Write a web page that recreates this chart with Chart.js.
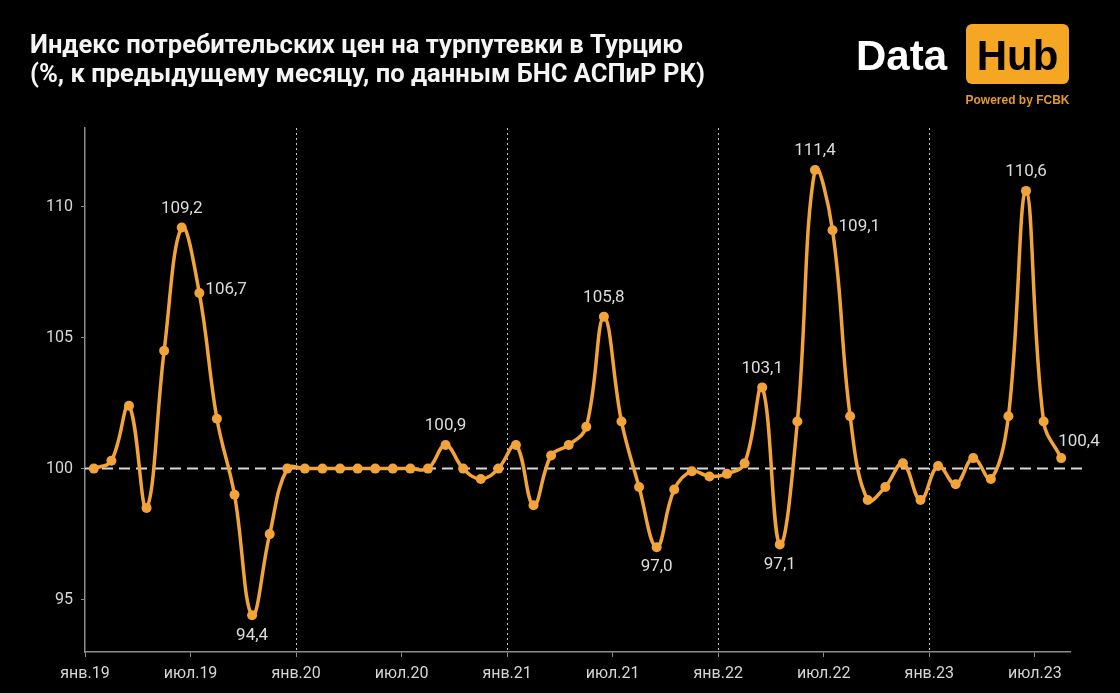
<!DOCTYPE html>
<html>
<head>
<meta charset="utf-8">
<script src="https://cdn.jsdelivr.net/npm/chart.js@4.4.1/dist/chart.umd.min.js"></script>
<style>
  html, body { margin: 0; padding: 0; background: #000; }
  #wrap { position: relative; width: 1120px; height: 693px; background: #000; }
  canvas { display: block; }
</style>
</head>
<body>
<div id="wrap"><canvas id="c" width="1120" height="693"></canvas></div>
<script>
// ---- data ----
const titleLines = [
  'Индекс потребительских цен на турпутевки в Турцию',
  '(%, к предыдущему месяцу, по данным БНС АСПиР РК)'
];
const tickLabels = ['янв.19','июл.19','янв.20','июл.20','янв.21','июл.21','янв.22','июл.22','янв.23','июл.23'];
const yTicks = [95, 100, 105, 110];
const values2019 = [100.0, 100.3, 102.4, 98.5, 104.5, 109.2, 106.7, 101.9, 99.0, 94.4, 97.5, 100.0];
const values2020 = [100.0, 100.0, 100.0, 100.0, 100.0, 100.0, 100.0, 100.0, 100.9, 100.0, 99.6, 100.0];
const values2021 = [100.9, 98.6, 100.5, 100.9, 101.6, 105.8, 101.8, 99.3, 97.0, 99.2, 99.9, 99.7];
const values2022 = [99.8, 100.2, 103.1, 97.1, 101.8, 111.4, 109.1, 102.0, 98.8, 99.3, 100.2, 98.8];
const values2023 = [100.1, 99.4, 100.4, 99.6, 102.0, 110.6, 101.8, 100.4];
const baseline = 100;
const labeledIdx = [5, 6, 9, 20, 29, 32, 38, 39, 41, 42, 53, 55];

const values = [].concat(values2019, values2020, values2021, values2022, values2023);

// ---- style ----
const ORANGE = '#F2A33A';
const TICK_COLOR = '#d6d6d6';
const AXIS_COLOR = '#8c8c8c';
const labelPlacement = { 6: 'right', 42: 'right', 9: 'below', 32: 'below', 39: 'below', 55: 'aboveRight' };

const points = values.map((v, i) => ({ x: i + 0.5, y: v }));
const fmt = v => v.toFixed(1).replace('.', ',');

const refLines = {
  id: 'refLines',
  beforeDatasetsDraw(chart) {
    const { ctx, chartArea: a, scales: { x, y } } = chart;
    ctx.save();
    ctx.strokeStyle = '#c4c4c4';
    ctx.lineWidth = 1;
    ctx.setLineDash([2, 3]);
    tickLabels.forEach((t, k) => {
      if (k > 0 && t.startsWith('янв')) {
        const px = Math.round(x.getPixelForValue(k * 6)) + 0.5;
        ctx.beginPath();
        ctx.moveTo(px, a.top);
        ctx.lineTo(px, a.bottom);
        ctx.stroke();
      }
    });
    const py = y.getPixelForValue(baseline);
    ctx.strokeStyle = '#d8d8d8';
    ctx.lineWidth = 2;
    ctx.setLineDash([11, 6]);
    ctx.beginPath();
    ctx.moveTo(a.left, py);
    ctx.lineTo(a.right + 14, py);
    ctx.stroke();
    ctx.restore();
  }
};

const valueLabels = {
  id: 'valueLabels',
  afterDatasetsDraw(chart) {
    const { ctx } = chart;
    const meta = chart.getDatasetMeta(0);
    ctx.save();
    ctx.font = '17px Roboto';
    ctx.fillStyle = '#dcdcdc';
    labeledIdx.forEach(i => {
      const el = meta.data[i];
      const txt = fmt(values[i]);
      const pos = labelPlacement[i] || 'above';
      if (pos === 'above') {
        ctx.textAlign = 'center'; ctx.textBaseline = 'middle';
        ctx.fillText(txt, el.x, el.y - 19);
      } else if (pos === 'below') {
        ctx.textAlign = 'center'; ctx.textBaseline = 'middle';
        ctx.fillText(txt, el.x, el.y + 20);
      } else if (pos === 'right') {
        ctx.textAlign = 'left'; ctx.textBaseline = 'middle';
        ctx.fillText(txt, el.x + 6, el.y - 3);
      } else if (pos === 'aboveRight') {
        ctx.textAlign = 'left'; ctx.textBaseline = 'middle';
        ctx.fillText(txt, el.x - 3, el.y - 16);
      }
    });
    ctx.restore();
  }
};

const header = {
  id: 'header',
  afterDraw(chart) {
    const { ctx } = chart;
    ctx.save();
    ctx.font = 'bold 25px Roboto';
    ctx.fillStyle = '#f4f4f4';
    ctx.textAlign = 'left';
    ctx.textBaseline = 'alphabetic';
    const w = ctx.measureText(titleLines[0]).width;
    const sx = 653 / w;
    [53, 82].forEach((by, k) => {
      ctx.save();
      ctx.translate(30, by);
      ctx.scale(sx, 1);
      ctx.fillText(titleLines[k], 0, 0);
      ctx.restore();
    });
    ctx.font = 'bold 42px "Liberation Sans", Arial, sans-serif';
    ctx.fillStyle = '#ffffff';
    ctx.fillText('Data', 856, 70);
    ctx.fillStyle = '#F5A623';
    const bx = 966, by = 24, bw = 103, bh = 60, r = 6;
    ctx.beginPath();
    ctx.moveTo(bx + r, by);
    ctx.arcTo(bx + bw, by, bx + bw, by + bh, r);
    ctx.arcTo(bx + bw, by + bh, bx, by + bh, r);
    ctx.arcTo(bx, by + bh, bx, by, r);
    ctx.arcTo(bx, by, bx + bw, by, r);
    ctx.closePath();
    ctx.fill();
    ctx.fillStyle = '#000000';
    ctx.textAlign = 'center';
    ctx.fillText('Hub', bx + bw / 2, 70);
    ctx.font = 'bold 12px "Liberation Sans", Arial, sans-serif';
    ctx.fillStyle = '#E39A2E';
    ctx.fillText('Powered by FCBK', bx + bw / 2, 104);
    ctx.restore();
  }
};

new Chart(document.getElementById('c'), {
  type: 'line',
  data: {
    datasets: [{
      data: points,
      borderColor: ORANGE,
      backgroundColor: ORANGE,
      borderWidth: 3.5,
      pointRadius: 5,
      pointBorderWidth: 0,
      pointBackgroundColor: ORANGE,
      tension: 0.4,
      clip: false
    }]
  },
  options: {
    responsive: false,
    animation: false,
    layout: { padding: { top: 128, right: 50, left: 0, bottom: 0 } },
    plugins: { legend: { display: false }, tooltip: { enabled: false } },
    scales: {
      x: {
        type: 'linear',
        min: 0,
        max: 56,
        afterBuildTicks: s => { s.ticks = tickLabels.map((_, k) => ({ value: k * 6 })); },
        afterFit: s => { s.height = 41; },
        ticks: {
          callback: v => tickLabels[Math.round(v / 6)],
          color: TICK_COLOR,
          font: { family: 'Roboto', size: 16 },
          padding: 7,
          maxRotation: 0,
          autoSkip: false
        },
        grid: { drawOnChartArea: false, drawTicks: true, tickLength: 5, tickColor: AXIS_COLOR },
        border: { color: AXIS_COLOR, width: 1.5 }
      },
      y: {
        min: 93,
        max: 113,
        afterBuildTicks: s => { s.ticks = yTicks.map(v => ({ value: v })); },
        afterFit: s => { s.width = 85; },
        ticks: {
          color: TICK_COLOR,
          font: { family: 'Roboto', size: 16 },
          padding: 8
        },
        grid: { drawOnChartArea: false, drawTicks: true, tickLength: 4, tickColor: AXIS_COLOR },
        border: { color: AXIS_COLOR, width: 1.5 }
      }
    }
  },
  plugins: [refLines, valueLabels, header]
});
</script>
</body>
</html>
